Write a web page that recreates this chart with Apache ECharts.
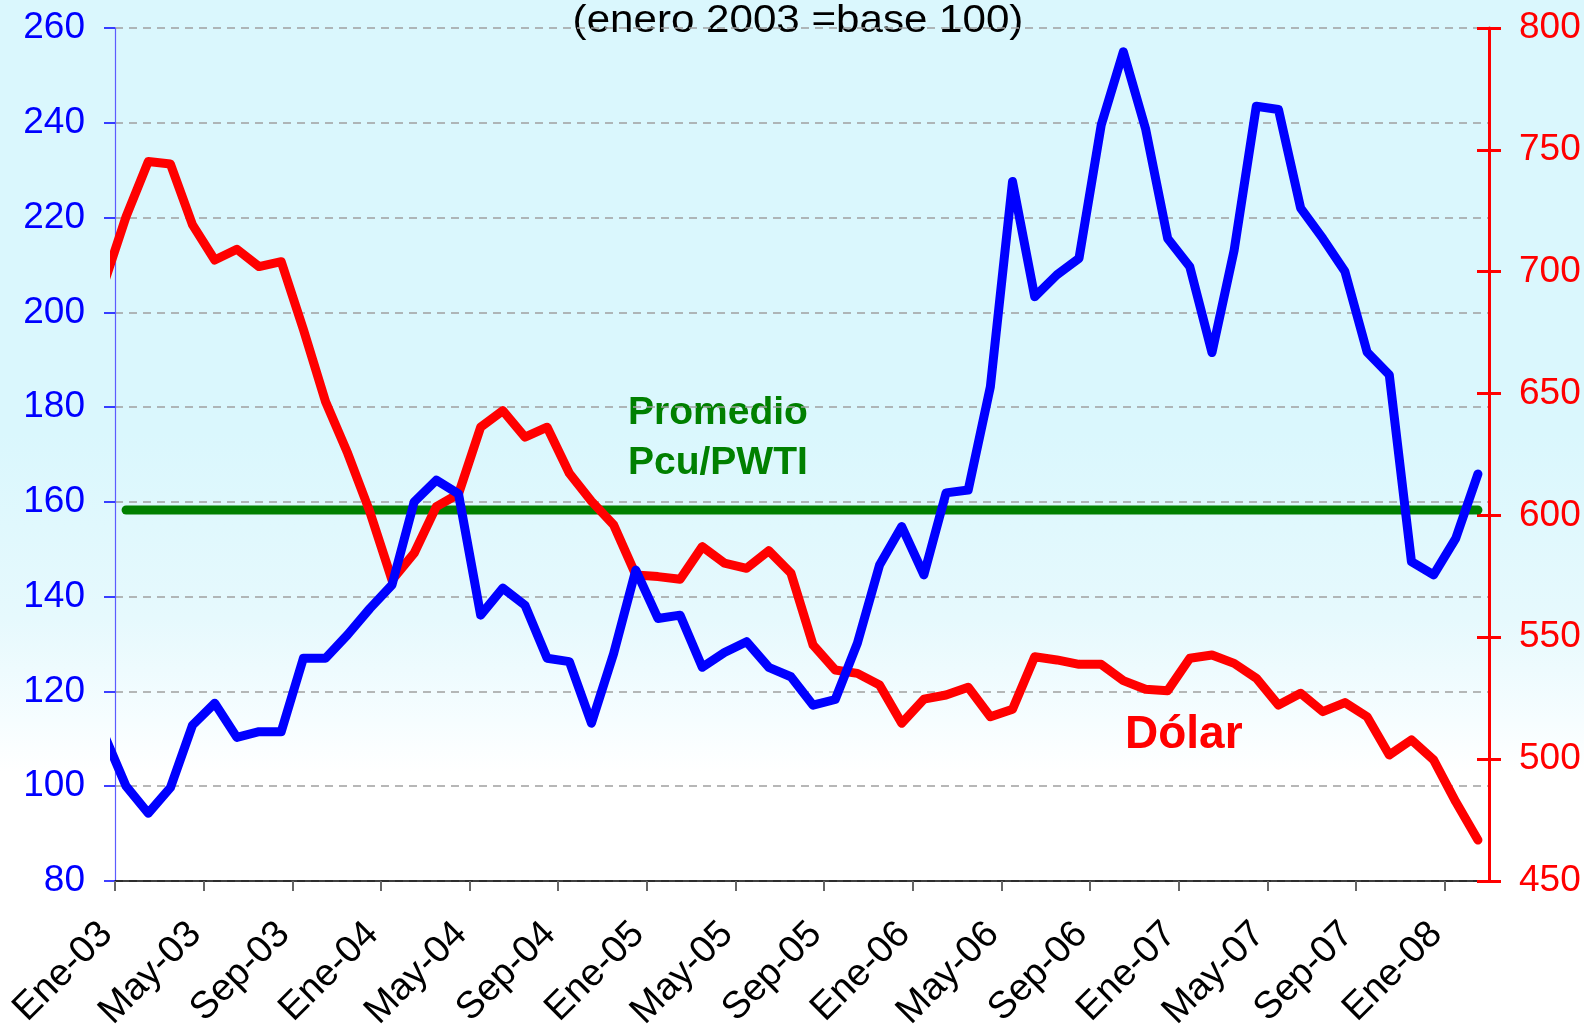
<!DOCTYPE html>
<html>
<head>
<meta charset="utf-8">
<script src="https://cdn.jsdelivr.net/npm/echarts@6/dist/echarts.min.js"></script>
<style>
  html, body { margin: 0; padding: 0; background: #fff; }
  #chart {
    width: 1584px; height: 1030px;
    background: linear-gradient(to bottom, #daf7fd 0%, #daf7fd 42%, #e6f9fd 60%, #f6fdff 70%, #ffffff 75%, #ffffff 100%);
  }
</style>
</head>
<body>
<div id="chart"></div>
<script>
// month index: 0 = Ene-03; first value is Dic-02 (index -1), cut off by the axis
var firstMonth = -1;

var tickMonths = [-0.5, 3.5, 7.5, 11.5, 15.5, 19.5, 23.5, 27.5, 31.5, 35.5, 39.5, 43.5, 47.5, 51.5, 55.5, 59.5];
var tickLabels = ["Ene-03", "May-03", "Sep-03", "Ene-04", "May-04", "Sep-04", "Ene-05", "May-05",
  "Sep-05", "Ene-06", "May-06", "Sep-06", "Ene-07", "May-07", "Sep-07", "Ene-08"];

// Pcu/PWTI (enero 2003 = 100), Dic-02 .. Feb-08
var pcuPwti = [111, 100, 94.3, 99.7, 112.9, 117.5, 110.3, 111.5, 111.5, 127.0, 127.0,
  132.0, 137.5, 142.5, 160.0, 164.6, 161.7, 136.1, 141.8, 138.2, 127.0, 126.3,
  113.3, 128.0, 145.6, 135.4, 136.1, 125.1, 128.2, 130.5, 125.1, 123.1, 117.1,
  118.3, 130.2, 146.7, 154.8, 144.6, 161.9, 162.5, 184.3, 227.6, 203.3, 207.9,
  211.4, 239.5, 255.0, 238.8, 215.6, 209.6, 191.5, 213.1, 243.5, 242.8, 222.0,
  215.6, 208.6, 191.6, 186.8, 147.4, 144.6, 152.3, 165.9];

// Dólar (pesos), Dic-02 .. Feb-08
var dolar = [695, 722.6, 745.2, 744.2, 719.2, 704.8, 709.2, 702.1, 704.1, 676.3, 646.7,
  625.5, 601.5, 573.5, 584.5, 603.6, 608.8, 636.2, 643.0, 632.1, 636.2, 617.3,
  605.8, 596.1, 575.6, 574.9, 573.8, 587.2, 580.4, 578.3, 585.5, 576.3, 546.8,
  536.6, 535.2, 530.4, 514.7, 524.6, 526.3, 529.5, 517.4, 520.5, 542.0, 540.7,
  538.9, 538.9, 532.2, 528.7, 528.1, 541.4, 542.7, 539.3, 533.2, 522.2, 527.0,
  519.5, 523.2, 517.4, 501.7, 507.9, 499.7, 482.5, 466.8];

// promedio Pcu/PWTI, Ene-03 .. Feb-08
var promedioMonths = [0, 61];
var promedio = [158.3, 158.3];

var font = "'Liberation Sans', Arial, Helvetica, sans-serif";

function toPairs(values, start) {
  var out = [];
  for (var i = 0; i < values.length; i++) {
    out.push([start + i, values[i]]);
  }
  return out;
}

var myChart = echarts.init(document.getElementById("chart"));

var option = {
  animation: false,
  grid: { left: 115, right: 95, top: 28, bottom: 149, outerBoundsMode: "none" },
  graphic: [
    {
      type: "text", x: 798, y: 21, scaleX: 1.08,
      style: { text: "(enero 2003 =base 100)", font: "39px " + font, fill: "#000",
        textAlign: "center", textVerticalAlign: "middle" }
    },
    {
      type: "text", x: 628, y: 413,
      style: { text: "Promedio", font: "bold 39px " + font, fill: "#008000",
        textAlign: "left", textVerticalAlign: "middle" }
    },
    {
      type: "text", x: 628, y: 463,
      style: { text: "Pcu/PWTI", font: "bold 39px " + font, fill: "#008000",
        textAlign: "left", textVerticalAlign: "middle" }
    },
    {
      type: "text", x: 1125, y: 735,
      style: { text: "Dólar", font: "bold 46px " + font, fill: "#ff0000",
        textAlign: "left", textVerticalAlign: "middle" }
    }
  ],
  xAxis: {
    type: "value",
    min: -0.5,
    max: 61.5,
    axisLine: { onZero: false, lineStyle: { color: "#000", width: 1.5 } },
    axisTick: { customValues: tickMonths, length: 10, lineStyle: { color: "#666", width: 2 } },
    axisLabel: {
      customValues: tickMonths,
      formatter: function (v) {
        var k = tickMonths.indexOf(v);
        return k >= 0 ? tickLabels[k] : "";
      },
      rotate: 45,
      margin: 39,
      padding: [0, 12, 0, 0],
      fontSize: 38,
      fontFamily: font,
      color: "#000"
    },
    splitLine: { show: false }
  },
  yAxis: [
    {
      type: "value", min: 80, max: 260, interval: 20, position: "left",
      axisLine: { show: true, onZero: false, lineStyle: { color: "#5c5cff", width: 1.2 } },
      axisTick: { show: true, length: 11, lineStyle: { color: "#0000ff", width: 1.5 } },
      axisLabel: { margin: 30, fontSize: 37, fontFamily: font, color: "#0000ff" },
      splitLine: { show: true, lineStyle: { type: [8, 6], color: "#a0a0a0", width: 1.5 } }
    },
    {
      type: "value", min: 450, max: 800, interval: 50, position: "right",
      axisLine: { show: true, onZero: false, lineStyle: { color: "#ff0000", width: 3 } },
      axisTick: { show: true, length: 12, lineStyle: { color: "#ff0000", width: 3 } },
      axisLabel: { margin: 30, fontSize: 37, fontFamily: font, color: "#ff0000" },
      splitLine: { show: false }
    },
    {
      // inner half of the crossing ticks on the right axis
      type: "value", min: 450, max: 800, interval: 50, position: "right",
      axisLine: { show: false, onZero: false },
      axisTick: { show: true, inside: true, length: 12, lineStyle: { color: "#ff0000", width: 3 } },
      axisLabel: { show: false },
      splitLine: { show: false }
    }
  ],
  series: [
    {
      name: "Promedio Pcu/PWTI",
      type: "line",
      yAxisIndex: 0,
      data: promedioMonths.map(function (m, i) { return [m, promedio[i]]; }),
      showSymbol: false,
      lineStyle: { color: "#008000", width: 9, cap: "round" },
      z: 2
    },
    {
      name: "Dólar",
      type: "line",
      yAxisIndex: 1,
      data: toPairs(dolar, firstMonth),
      showSymbol: false,
      lineStyle: { color: "#ff0000", width: 9, cap: "round", join: "round" },
      z: 3
    },
    {
      name: "Pcu/PWTI",
      type: "line",
      yAxisIndex: 0,
      data: toPairs(pcuPwti, firstMonth),
      showSymbol: false,
      lineStyle: { color: "#0000ff", width: 9, cap: "round", join: "round" },
      z: 4
    }
  ]
};

myChart.setOption(option);
</script>
</body>
</html>
